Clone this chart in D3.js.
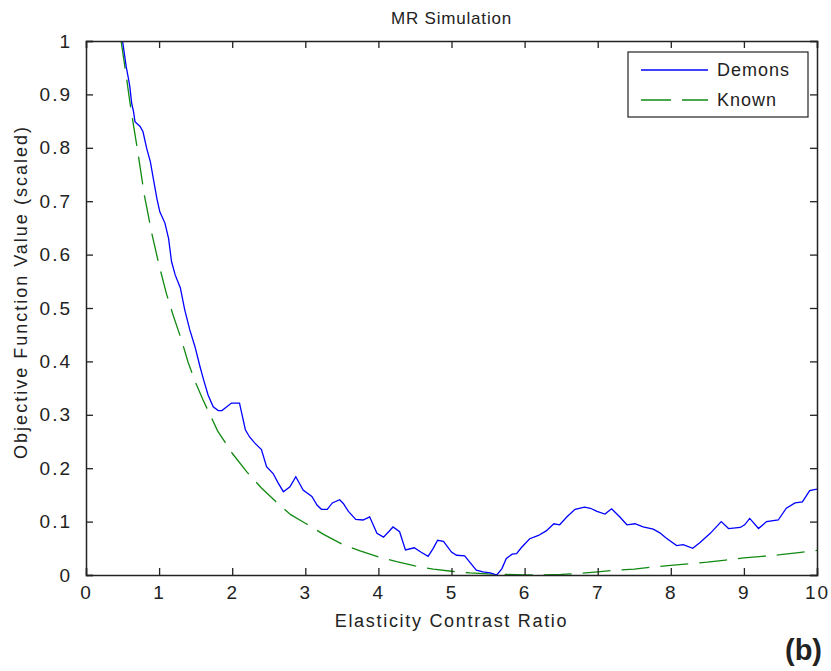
<!DOCTYPE html>
<html>
<head>
<meta charset="utf-8">
<script src="https://cdn.jsdelivr.net/npm/d3@7"></script>
<style>
  body { margin: 0; background: #fff; }
  svg text { font-family: "Liberation Sans", Arial, sans-serif; fill: #222; }
</style>
</head>
<body>
<svg id="chart" width="831" height="671"></svg>
<script>
// values
const demonsX = [0.50, 0.55, 0.58, 0.60, 0.625, 0.65, 0.67, 0.74, 0.78, 0.83, 0.88, 0.92, 0.97, 1.01, 1.08, 1.13, 1.17, 1.22, 1.29, 1.35,
  1.42, 1.49, 1.56, 1.61, 1.67, 1.74, 1.81, 1.86, 1.99, 2.10, 2.13, 2.18, 2.24, 2.31, 2.40, 2.47, 2.56, 2.63, 2.70, 2.79,
  2.87, 2.97, 3.09, 3.16, 3.22, 3.30, 3.37, 3.47, 3.52, 3.59, 3.69, 3.79, 3.88, 3.98, 4.07, 4.14, 4.20, 4.29, 4.37, 4.49,
  4.58, 4.68, 4.75, 4.81, 4.89, 5.00, 5.07, 5.18, 5.28, 5.34, 5.43, 5.53, 5.62, 5.69, 5.75, 5.83, 5.89, 5.96, 6.07, 6.19,
  6.30, 6.40, 6.48, 6.58, 6.69, 6.82, 6.90, 6.99, 7.10, 7.19, 7.30, 7.40, 7.51, 7.62, 7.76, 7.85, 7.94, 8.08, 8.17, 8.30,
  8.40, 8.54, 8.69, 8.79, 8.95, 9.01, 9.08, 9.20, 9.31, 9.47, 9.58, 9.70, 9.80, 9.90, 10.0];
const demonsY = [1.0, 0.952, 0.93, 0.914, 0.883, 0.868, 0.849, 0.840, 0.830, 0.799, 0.774, 0.743, 0.705, 0.680, 0.659, 0.630, 0.587, 0.562, 0.538, 0.497,
  0.459, 0.428, 0.39, 0.365, 0.337, 0.315, 0.308, 0.308, 0.322, 0.322, 0.303, 0.272, 0.258, 0.247, 0.235, 0.203, 0.19, 0.172, 0.156, 0.165,
  0.184, 0.159, 0.147, 0.131, 0.123, 0.123, 0.135, 0.141, 0.134, 0.119, 0.104, 0.103, 0.109, 0.078, 0.071, 0.081, 0.090, 0.081, 0.047, 0.051,
  0.043, 0.035, 0.05, 0.065, 0.063, 0.043, 0.037, 0.036, 0.019, 0.009, 0.006, 0.004, 0.0, 0.012, 0.031, 0.039, 0.040, 0.052, 0.068, 0.074,
  0.083, 0.096, 0.094, 0.109, 0.123, 0.127, 0.125, 0.119, 0.114, 0.124, 0.109, 0.094, 0.096, 0.090, 0.086, 0.079, 0.069, 0.055, 0.057, 0.05,
  0.061, 0.078, 0.1, 0.087, 0.089, 0.094, 0.106, 0.087, 0.1, 0.103, 0.125, 0.135, 0.137, 0.158, 0.161];

const knownX = [0.48, 0.55, 0.6, 0.65, 0.7, 0.75, 0.8, 0.9, 1.0, 1.1, 1.2, 1.3, 1.4, 1.5, 1.6, 1.8, 2.0, 2.2, 2.4, 2.6,
  2.8, 3.0, 3.25, 3.5, 3.75, 4.0, 4.25, 4.5, 4.75, 5.0, 5.25, 5.5, 5.75, 6.0, 6.25, 6.5, 6.75, 7.0, 7.25, 7.5,
  7.75, 8.0, 8.25, 8.5, 8.75, 9.0, 9.25, 9.5, 9.75, 10];
const knownY = [1.0, 0.935, 0.886, 0.842, 0.80, 0.755, 0.71, 0.64, 0.58, 0.527, 0.483, 0.443, 0.397, 0.36, 0.328, 0.27, 0.228, 0.193, 0.163, 0.137,
  0.113, 0.097, 0.076, 0.058, 0.045, 0.034, 0.025, 0.017, 0.011, 0.007, 0.004, 0.002, 0.001, 0.0, 0.0, 0.001, 0.003, 0.006, 0.009, 0.011,
  0.015, 0.018, 0.021, 0.024, 0.028, 0.032, 0.035, 0.038, 0.042, 0.046];

const xTicks = [0, 1, 2, 3, 4, 5, 6, 7, 8, 9, 10];
const yTicks = [0, 0.1, 0.2, 0.3, 0.4, 0.5, 0.6, 0.7, 0.8, 0.9, 1];
const seriesNames = ['Demons', 'Known'];

const svg = d3.select('#chart');
const plotLeft = 86, plotRight = 817, plotTop = 41, plotBottom = 575;

const x = d3.scaleLinear().domain([0, 10]).range([plotLeft, plotRight]);
const y = d3.scaleLinear().domain([0, 1]).range([plotBottom, plotTop]);

const plot = svg.append('g');
plot.append('defs').append('clipPath').attr('id', 'clip')
  .append('rect').attr('x', plotLeft).attr('y', plotTop - 1)
  .attr('width', plotRight - plotLeft).attr('height', plotBottom - plotTop + 2);

let line = d3.line().x((d) => x(d[0])).y((d) => y(d[1]));

plot.append('path')
  .datum(knownX.map((v, i) => [v, knownY[i]]))
  .attr('d', line)
  .attr('clip-path', 'url(#clip)')
  .attr('fill', 'none')
  .attr('stroke', '#108a10')
  .attr('stroke-width', 1.3)
  .attr('stroke-dasharray', '28,11');

plot.append('path')
  .datum(demonsX.map((v, i) => [v, demonsY[i]]))
  .attr('d', line)
  .attr('clip-path', 'url(#clip)')
  .attr('fill', 'none')
  .attr('stroke', '#0000ff')
  .attr('stroke-width', 1.3);

// axes, matlab style: box on, ticks pointing inward
const fmt = (d) => (d === 0 || d === 1 ? String(d) : d3.format('.1f')(d));
const tickLen = 7;

svg.append('g').attr('transform', `translate(0,${plotBottom})`)
  .call(d3.axisBottom(x).tickValues(xTicks).tickSize(-tickLen).tickPadding(tickLen + 4).tickFormat(d3.format('d')));
svg.append('g').attr('transform', `translate(0,${plotTop})`)
  .call(d3.axisTop(x).tickValues(xTicks).tickSize(-tickLen).tickFormat(''));
svg.append('g').attr('transform', `translate(${plotLeft},0)`)
  .call(d3.axisLeft(y).tickValues(yTicks).tickSize(-tickLen).tickPadding(tickLen + 7).tickFormat(fmt));
svg.append('g').attr('transform', `translate(${plotRight},0)`)
  .call(d3.axisRight(y).tickValues(yTicks).tickSize(-tickLen).tickFormat(''));

svg.selectAll('.domain').attr('stroke', '#222').attr('stroke-width', 1.5);
svg.selectAll('.tick line').attr('stroke', '#222').attr('stroke-width', 1.3);
svg.selectAll('.tick text')
  .style('font-size', '19px')
  .style('letter-spacing', '2px')
  .attr('fill', '#222');

svg.append('text')
  .attr('x', (plotLeft + plotRight) / 2).attr('y', 24)
  .attr('text-anchor', 'middle')
  .style('font-size', '17px')
  .style('letter-spacing', '0.8px')
  .text('MR Simulation');

svg.append('text')
  .attr('x', (plotLeft + plotRight) / 2).attr('y', 627)
  .attr('text-anchor', 'middle')
  .style('font-size', '18px')
  .style('letter-spacing', '1.7px')
  .text('Elasticity Contrast Ratio');

svg.append('text')
  .attr('transform', 'translate(27,292) rotate(-90)')
  .attr('text-anchor', 'middle')
  .style('font-size', '18px')
  .style('letter-spacing', '2px')
  .text('Objective Function Value (scaled)');

svg.append('text')
  .attr('x', 822).attr('y', 660)
  .attr('text-anchor', 'end')
  .style('font-size', '29px')
  .style('font-weight', 'bold')
  .attr('fill', '#1a1a1a')
  .text('(b)');

// legend
const legend = svg.append('g');
legend.append('rect')
  .attr('x', 628).attr('y', 52).attr('width', 180).attr('height', 65)
  .attr('fill', '#fff').attr('stroke', '#222').attr('stroke-width', 1.2);

const legendColors = ['#0000ff', '#108a10'];
const legendDash = [null, '30,11'];
seriesNames.forEach((name, i) => {
  let ly = 70 + i * 30;
  legend.append('line')
    .attr('x1', 641).attr('x2', 708).attr('y1', ly).attr('y2', ly)
    .attr('stroke', legendColors[i]).attr('stroke-width', 1.3)
    .attr('stroke-dasharray', legendDash[i]);
  legend.append('text')
    .attr('x', 717).attr('y', ly + 6)
    .style('font-size', '18px')
    .style('letter-spacing', '1px')
    .text(name);
});
</script>
</body>
</html>
